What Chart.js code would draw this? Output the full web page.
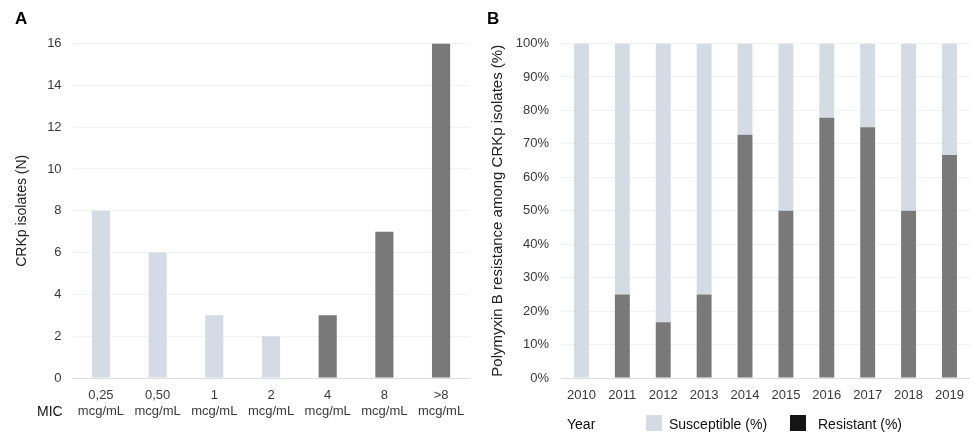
<!DOCTYPE html>
<html lang="en">
<head>
  <meta charset="utf-8"/>
  <title>CRKp polymyxin B MIC and resistance by year</title>
  <script src="https://cdn.jsdelivr.net/npm/chart.js@4.4.1/dist/chart.umd.min.js"></script>
  <style>
    body { margin: 0; background: #fff; font-family: "Liberation Sans", Arial, sans-serif; }
    #wrap { position: relative; width: 974px; height: 433px; overflow: hidden; }
    canvas { position: absolute; top: 0; }
    #chartA { left: 0; }
    #chartB { left: 480px; }
    .panel { position: absolute; font-weight: bold; font-size: 17px; color: #000; }
    .lbl { position: absolute; font-size: 14px; color: #111; line-height: 16px; }
    .sw { position: absolute; width: 16px; height: 16px; }
  </style>
</head>
<body>
<div id="wrap">
  <canvas id="chartA" width="480" height="433"></canvas>
  <canvas id="chartB" width="494" height="433"></canvas>
  <div class="panel" style="left:15px; top:9px;">A</div>
  <div class="panel" style="left:487px; top:9px;">B</div>
  <div class="lbl" style="left:37px; top:403px;">MIC</div>
  <div class="lbl" style="left:567px; top:416px;">Year</div>
  <div class="sw" style="left:646px; top:415px; background:#d5dbe4;"></div>
  <div class="lbl" style="left:669px; top:416px;">Susceptible (%)</div>
  <div class="sw" style="left:790px; top:415px; background:#151515;"></div>
  <div class="lbl" style="left:818px; top:416px;">Resistant (%)</div>
</div>

<script>
// panel A: isolates per polymyxin B MIC
const micLabels = [
  ['0,25', 'mcg/mL'], ['0,50', 'mcg/mL'], ['1', 'mcg/mL'], ['2', 'mcg/mL'],
  ['4', 'mcg/mL'], ['8', 'mcg/mL'], ['>8', 'mcg/mL']
];
const micCounts = [8, 6, 3, 2, 3, 7, 16];
const micGroup = ['S', 'S', 'S', 'S', 'R', 'R', 'R'];

// panel B: share of resistant isolates per year
const years = ['2010', '2011', '2012', '2013', '2014', '2015', '2016', '2017', '2018', '2019'];
const resistantPct = [0, 25, 16.7, 25, 72.7, 50, 77.8, 75, 50, 66.7];
const susceptiblePct = [100, 75, 83.3, 75, 27.3, 50, 22.2, 25, 50, 33.3];
const pctTicks = [0, 10, 20, 30, 40, 50, 60, 70, 80, 90, 100];

const LIGHT = '#d5dbe4';
const DARK = '#797979';
const GRID = '#f1f1f1';
const AXIS = '#dcdcdc';
const TICK = '#3a3a3a';

Chart.defaults.font.family = '"Liberation Sans", Arial, sans-serif';
Chart.defaults.font.size = 13;
Chart.defaults.animation = false;

new Chart(document.getElementById('chartA'), {
  type: 'bar',
  data: {
    labels: micLabels,
    datasets: [{
      data: micCounts,
      backgroundColor: micGroup.map(g => g === 'R' ? DARK : LIGHT),
      barPercentage: 0.32,
      categoryPercentage: 1
    }]
  },
  options: {
    responsive: false,
    layout: { padding: { left: 10, right: 10.6, top: 43.5, bottom: 0 } },
    plugins: { legend: { display: false }, tooltip: { enabled: false } },
    scales: {
      x: {
        grid: { display: false, drawTicks: false },
        border: { color: AXIS },
        ticks: { color: TICK, padding: 10, maxRotation: 0, autoSkip: false },
        afterFit: s => { s.height = 55; }
      },
      y: {
        min: 0, max: 16,
        ticks: { stepSize: 2, color: TICK, padding: 11 },
        grid: { color: GRID, drawTicks: false },
        border: { display: false },
        title: { display: true, text: 'CRKp isolates (N)', color: '#222', font: { size: 14 } },
        afterFit: s => { s.width = 62.6; }
      }
    }
  }
});

new Chart(document.getElementById('chartB'), {
  type: 'bar',
  data: {
    labels: years,
    datasets: [
      { label: 'Resistant (%)', data: resistantPct, backgroundColor: DARK, barPercentage: 0.365, categoryPercentage: 1 },
      { label: 'Susceptible (%)', data: susceptiblePct, backgroundColor: LIGHT, barPercentage: 0.365, categoryPercentage: 1 }
    ]
  },
  options: {
    responsive: false,
    layout: { padding: { left: 4.5, right: 1.4, top: 43.5, bottom: 0 } },
    plugins: { legend: { display: false }, tooltip: { enabled: false } },
    scales: {
      x: {
        stacked: true,
        grid: { display: false, drawTicks: false },
        border: { color: AXIS },
        ticks: { color: TICK, padding: 10, maxRotation: 0, autoSkip: false },
        afterFit: s => { s.height = 55; }
      },
      y: {
        stacked: true,
        min: 0, max: 100,
        afterBuildTicks: s => { s.ticks = pctTicks.map(v => ({ value: v })); },
        ticks: { color: TICK, padding: 12, callback: v => v + '%' },
        grid: { color: GRID, drawTicks: false },
        border: { display: false },
        title: { display: true, text: 'Polymyxin B resistance among CRKp isolates (%)', color: '#222', font: { size: 15 } },
        afterFit: s => { s.width = 76.5; }
      }
    }
  }
});
</script>
</body>
</html>
